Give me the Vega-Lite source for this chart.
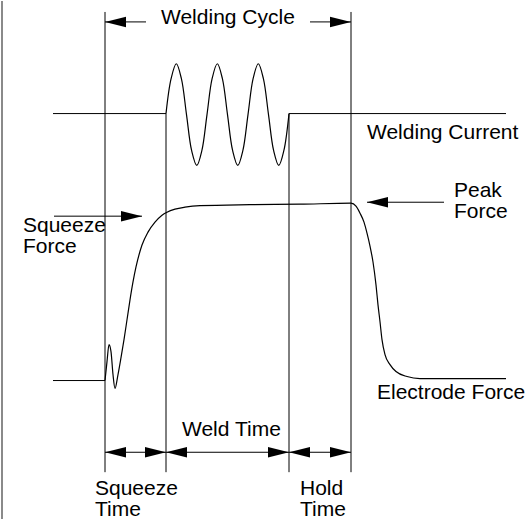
{
  "$schema": "https://vega.github.io/schema/vega-lite/v6.json",
  "width": 529,
  "height": 520,
  "padding": 0,
  "autosize": {"type": "fit", "contains": "padding"},
  "background": "white",
  "config": {"view": {"stroke": null}},
  "datasets": {
    "segments": [
      {"x": 105, "y": 11, "x2": 105, "y2": 473},
      {"x": 166, "y": 113, "x2": 166, "y2": 473},
      {"x": 289, "y": 113, "x2": 289, "y2": 473},
      {"x": 351, "y": 11, "x2": 351, "y2": 473},
      {"x": 53, "y": 113, "x2": 166, "y2": 113},
      {"x": 289, "y": 113, "x2": 506, "y2": 113},
      {"x": 53, "y": 381, "x2": 105, "y2": 381},
      {"x": 105, "y": 21, "x2": 146, "y2": 21},
      {"x": 310, "y": 21, "x2": 351, "y2": 21},
      {"x": 367, "y": 202, "x2": 444, "y2": 202},
      {"x": 54, "y": 216, "x2": 142, "y2": 216},
      {"x": 105, "y": 453, "x2": 351, "y2": 453}
    ],
    "border": [
      {"x": 2, "y": 0, "x2": 2, "y2": 520}
    ],
    "wave": [
      {"x": 166, "y": 113}, {"x": 171.1, "y": 78}, {"x": 176.3, "y": 63}, {"x": 181.4, "y": 78},
      {"x": 186.5, "y": 114}, {"x": 191.6, "y": 150}, {"x": 196.8, "y": 165}, {"x": 201.9, "y": 150},
      {"x": 207, "y": 114}, {"x": 212.1, "y": 78}, {"x": 217.3, "y": 63}, {"x": 222.4, "y": 78},
      {"x": 227.5, "y": 114}, {"x": 232.6, "y": 150}, {"x": 237.8, "y": 165}, {"x": 242.9, "y": 150},
      {"x": 248, "y": 114}, {"x": 253.1, "y": 78}, {"x": 258.3, "y": 63}, {"x": 263.4, "y": 78},
      {"x": 268.5, "y": 114}, {"x": 273.6, "y": 150}, {"x": 278.8, "y": 165}, {"x": 283.9, "y": 150},
      {"x": 289, "y": 113}
    ],
    "force": [
      {"x": 105, "y": 381}, {"x": 107, "y": 362}, {"x": 109, "y": 345}, {"x": 111, "y": 352},
      {"x": 113, "y": 375}, {"x": 115, "y": 389}, {"x": 118, "y": 375}, {"x": 121, "y": 358},
      {"x": 124, "y": 340}, {"x": 127, "y": 320}, {"x": 130, "y": 300}, {"x": 133, "y": 282},
      {"x": 136, "y": 267}, {"x": 142, "y": 245}, {"x": 148, "y": 232}, {"x": 155, "y": 222},
      {"x": 162, "y": 215}, {"x": 167, "y": 212}, {"x": 175, "y": 209}, {"x": 185, "y": 207},
      {"x": 200, "y": 205.5}, {"x": 250, "y": 204.5}, {"x": 300, "y": 204}, {"x": 351, "y": 203},
      {"x": 356, "y": 206}, {"x": 360, "y": 213}, {"x": 364, "y": 222}, {"x": 367, "y": 233},
      {"x": 370, "y": 246}, {"x": 373, "y": 262}, {"x": 376, "y": 285}, {"x": 378, "y": 305},
      {"x": 380, "y": 322}, {"x": 382, "y": 340}, {"x": 385, "y": 355}, {"x": 390, "y": 365},
      {"x": 396, "y": 372}, {"x": 407, "y": 377}, {"x": 420, "y": 379}, {"x": 506, "y": 379}
    ],
    "heads": [
      {"x": 105, "y": 21, "dir": "L"}, {"x": 351, "y": 21, "dir": "R"},
      {"x": 367, "y": 202, "dir": "L"}, {"x": 142, "y": 216, "dir": "R"},
      {"x": 105, "y": 453, "dir": "L"}, {"x": 166, "y": 453, "dir": "R"},
      {"x": 166, "y": 453, "dir": "L"}, {"x": 289, "y": 453, "dir": "R"},
      {"x": 289, "y": 453, "dir": "L"}, {"x": 351, "y": 453, "dir": "R"}
    ],
    "labels": [
      {"x": 161, "y": 23, "label": "Welding Cycle"},
      {"x": 367, "y": 139, "label": "Welding Current"},
      {"x": 454, "y": 196.5, "label": "Peak\nForce"},
      {"x": 23, "y": 232, "label": "Squeeze\nForce"},
      {"x": 377, "y": 400, "label": "Electrode Force"},
      {"x": 182, "y": 437, "label": "Weld Time"},
      {"x": 95, "y": 496, "label": "Squeeze\nTime"},
      {"x": 300, "y": 496, "label": "Hold\nTime"}
    ]
  },
  "encoding": {
    "x": {"field": "x", "type": "quantitative", "scale": {"domain": [0, 529], "nice": false, "zero": false}, "axis": null},
    "y": {"field": "y", "type": "quantitative", "scale": {"domain": [0, 520], "nice": false, "zero": false, "reverse": true}, "axis": null}
  },
  "layer": [
    {
      "data": {"name": "border"},
      "mark": {"type": "rule", "color": "#8a8a8a", "strokeWidth": 2},
      "encoding": {"x2": {"field": "x2"}, "y2": {"field": "y2"}}
    },
    {
      "data": {"name": "segments"},
      "mark": {"type": "rule", "color": "#000000", "strokeWidth": 1},
      "encoding": {"x2": {"field": "x2"}, "y2": {"field": "y2"}}
    },
    {
      "data": {"name": "wave"},
      "mark": {"type": "line", "color": "#000000", "strokeWidth": 1.2, "interpolate": "catmull-rom"},
      "encoding": {"order": {"field": "x", "type": "quantitative"}}
    },
    {
      "data": {"name": "force"},
      "mark": {"type": "line", "color": "#000000", "strokeWidth": 1.2, "interpolate": "monotone"},
      "encoding": {"order": {"field": "x", "type": "quantitative"}}
    },
    {
      "data": {"name": "heads"},
      "mark": {"type": "point", "filled": true, "color": "#000000", "opacity": 1, "strokeWidth": 0, "size": 441},
      "encoding": {
        "shape": {"field": "dir", "type": "nominal", "legend": null,
          "scale": {"domain": ["L", "R"], "range": ["M0,0 L2,-0.5 L2,0.5 Z", "M0,0 L-2,-0.5 L-2,0.5 Z"]}}
      }
    },
    {
      "data": {"name": "labels"},
      "mark": {"type": "text", "align": "left", "baseline": "alphabetic", "font": "Liberation Sans", "fontSize": 21, "lineHeight": 21, "lineBreak": "\n", "color": "#000000"},
      "encoding": {"text": {"field": "label", "type": "nominal"}}
    }
  ]
}
